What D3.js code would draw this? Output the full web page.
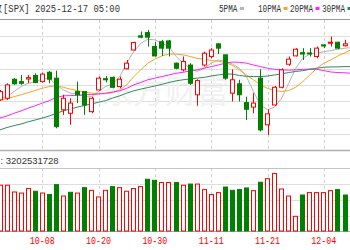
<!DOCTYPE html>
<html>
<head>
<meta charset="utf-8">
<script src="https://cdn.jsdelivr.net/npm/d3@7"></script>
<style>
body { margin: 0; background: #fff; }
svg { display: block; }
</style>
</head>
<body>
<svg width="350" height="250"></svg>
<script>
// daily bars, 09-30 .. 12-10
var dates = ["09-30","10-01","10-02","10-03","10-06","10-07","10-08","10-09","10-10","10-13",
  "10-14","10-15","10-16","10-17","10-20","10-21","10-22","10-23","10-24","10-27",
  "10-28","10-29","10-30","10-31","11-03","11-04","11-05","11-06","11-07","11-10",
  "11-11","11-12","11-13","11-14","11-17","11-18","11-19","11-20","11-21","11-24",
  "11-25","11-26","11-28","12-01","12-02","12-03","12-04","12-05","12-08","12-09","12-10"];

var open  = [6653,6659,6730,6721,6731,6744,6721,6756,6734,6616,6603,6684,6684,6609,6690,6732,6737,6703,6769,6839,
  6892,6904,6852,6870,6873,6790,6765,6783,6672,6783,6815,6862,6821,6678,6713,6643,6626,6734,6560,6634,
  6700,6786,6817,6829,6828,6815,6858,6866,6868,6855,6860];
var high  = [6690,6715,6734,6746,6746,6752,6755,6761,6762,6672,6659,6721,6684,6665,6740,6742,6740,6740,6802,6870,
  6908,6914,6870,6877,6877,6792,6815,6790,6730,6833,6846,6864,6821,6767,6728,6665,6678,6767,6618,6705,
  6771,6815,6846,6846,6846,6852,6861,6889,6870,6877,6900];
var low   = [6649,6653,6709,6709,6715,6715,6718,6715,6547,6597,6560,6641,6597,6603,6688,6718,6696,6696,6767,6837,
  6883,6852,6815,6817,6815,6767,6759,6709,6631,6777,6808,6824,6728,6647,6647,6578,6603,6535,6522,6631,
  6696,6780,6815,6802,6815,6808,6846,6852,6842,6852,6855];
var close = [6684,6709,6713,6715,6736,6718,6749,6730,6553,6659,6641,6672,6634,6659,6734,6730,6700,6730,6790,6867,
  6887,6887,6817,6846,6846,6771,6796,6715,6725,6827,6839,6846,6734,6728,6672,6618,6641,6541,6601,6700,
  6765,6805,6842,6824,6826,6846,6854,6868,6846,6862,6885];

// volume in billions, and whether the bar is drawn as "up"
var volume = [3.05,3.05,2.60,2.53,2.83,2.65,2.53,2.43,3.09,2.33,2.58,2.53,2.89,2.71,2.27,2.71,2.96,2.89,2.65,2.83,
  2.96,3.45,3.38,3.23,3.23,3.23,3.05,3.13,3.13,2.76,2.43,2.56,2.93,2.71,2.76,2.87,2.69,3.25,3.49,3.83,
  2.80,2.33,0.98,2.40,2.56,2.56,2.56,2.69,2.76,2.40,3.09];
var volUp = [1,1,1,1,1,0,1,0,0,1,0,1,0,1,1,1,0,1,1,1,1,0,0,1,1,0,1,0,1,1,1,1,0,0,0,0,1,0,1,1,1,1,1,0,1,1,1,1,0,0,1];

// moving averages
var ma5  = [6659,6665,6684,6703,6715,6721,6730,6734,6709,6690,6678,6675,6665,6665,6684,6703,6712,6740,6790,6833,
  6864,6879,6877,6864,6852,6815,6790,6771,6759,6771,6790,6802,6796,6787,6771,6740,6684,6634,6616,6626,
  6659,6715,6771,6808,6824,6827,6833,6837,6842,6846,6848];
var ma10 = [6653,6657,6665,6672,6680,6688,6696,6703,6705,6700,6693,6688,6683,6678,6676,6676,6680,6690,6709,6740,
  6765,6790,6805,6817,6824,6824,6821,6815,6808,6805,6800,6797,6793,6782,6765,6746,6728,6709,6696,6688,
  6684,6688,6700,6721,6746,6771,6790,6802,6817,6829,6842];
var ma20 = [6585,6593,6603,6612,6622,6631,6641,6650,6662,6668,6669,6670,6672,6673,6675,6678,6682,6687,6696,6709,
  6718,6728,6734,6740,6746,6752,6756,6761,6765,6771,6777,6783,6790,6794,6793,6790,6783,6777,6771,6767,
  6765,6764,6765,6767,6768,6767,6762,6757,6755,6754,6752];
var ma30 = [6541,6550,6557,6563,6571,6578,6585,6593,6603,6612,6619,6626,6632,6638,6644,6650,6660,6668,6678,6687,
  6693,6699,6705,6711,6718,6724,6728,6731,6734,6737,6742,6746,6750,6749,6744,6741,6740,6740,6742,6746,
  6750,6755,6759,6762,6767,6771,6775,6776,6776,6777,6777];

var labelDates = ["10-08","10-20","10-30","11-11","11-21","12-04"];
var maNames = ["5PMA","10PMA","20PMA","30PMA"];
var maColors = ["#b4b4b4","#f5a623","#ff22ff","#2e8b57"];

var svg = d3.select("svg"),
  W = +svg.attr("width");

var step = 7;
var x = d3.scaleBand()
  .domain(dates)
  .range([1 - step / 2, 1 - step / 2 + step * dates.length])
  .paddingInner(0.3);

var y = d3.scaleLinear().domain([6466, 6951]).range([150, 20]);
var yv = d3.scaleLinear().domain([0, 4.2]).range([231, 168]);

var cx = function (i) { return x(dates[i]) + x.bandwidth() / 2; };
var up = "#ff0000", down = "#008000";
var mono = "'Liberation Mono', monospace";

// grid
var grid = svg.append("g").attr("class", "grid");
d3.range(1, 8).forEach(function (k) {
  var gy = Math.round(20 + k * 130 / 8) + 0.5;
  grid.append("line").attr("x1", 0).attr("x2", W).attr("y1", gy).attr("y2", gy)
    .attr("stroke", "#dedede");
});
[184, 200, 216].forEach(function (gy) {
  grid.append("line").attr("x1", 0).attr("x2", W).attr("y1", gy + 0.5).attr("y2", gy + 0.5)
    .attr("stroke", "#dedede");
});
labelDates.forEach(function (d) {
  var gx = Math.round(x(d) + x.bandwidth() / 2) + 0.5;
  [[20, 150], [168, 231]].forEach(function (r) {
    grid.append("line").attr("x1", gx).attr("x2", gx).attr("y1", r[0]).attr("y2", r[1])
      .attr("stroke", "#cfcfcf").attr("stroke-dasharray", "3,3");
  });
});
grid.append("line").attr("x1", 0).attr("x2", W).attr("y1", 19.5).attr("y2", 19.5).attr("stroke", "#9a9a9a");
grid.append("line").attr("x1", 0).attr("x2", W).attr("y1", 150.5).attr("y2", 150.5).attr("stroke", "#b0b0b0").attr("stroke-width", 1.5);
grid.append("line").attr("x1", 0).attr("x2", W).attr("y1", 168.5).attr("y2", 168.5).attr("stroke", "#c4c4c4");
grid.append("line").attr("x1", 0).attr("x2", W).attr("y1", 231.5).attr("y2", 231.5).attr("stroke", "#a8a8a8");

// watermark
svg.append("text")
  .attr("x", 165).attr("y", 103)
  .attr("text-anchor", "middle")
  .style("font-family", "'Noto Sans CJK SC'")
  .style("font-size", "32px")
  .attr("fill", "#f1f1f1")
  .text("东方财富");

// moving average lines
var maData = [ma5, ma10, ma20, ma30];
var line = d3.line()
  .x(function (d, i) { return cx(i); })
  .y(function (d) { return y(d); });
svg.append("g").selectAll("path")
  .data(maData)
  .enter().append("path")
  .attr("d", line)
  .attr("fill", "none")
  .attr("stroke", function (d, i) { return maColors[i]; })
  .attr("stroke-width", 1);

// candles
var idx = d3.range(dates.length);
var candle = svg.append("g").selectAll("g")
  .data(idx)
  .enter().append("g");

candle.append("line")
  .attr("x1", function (i) { return Math.round(cx(i)) + 0.5; })
  .attr("x2", function (i) { return Math.round(cx(i)) + 0.5; })
  .attr("y1", function (i) { return y(high[i]); })
  .attr("y2", function (i) { return y(low[i]); })
  .attr("stroke", function (i) { return close[i] >= open[i] ? up : down; });

candle.append("rect")
  .attr("x", function (i) { return Math.round(x(dates[i])) + 0.5; })
  .attr("width", 4)
  .attr("y", function (i) { return y(Math.max(open[i], close[i])); })
  .attr("height", function (i) { return Math.max(1, Math.abs(y(open[i]) - y(close[i]))); })
  .attr("fill", function (i) { return close[i] >= open[i] ? "#fff" : down; })
  .attr("stroke", function (i) { return close[i] >= open[i] ? up : down; });

// volume bars
svg.append("g").selectAll("rect")
  .data(idx)
  .enter().append("rect")
  .attr("x", function (i) { return Math.round(x(dates[i])) + 0.5; })
  .attr("width", 4)
  .attr("y", function (i) { return yv(volume[i]); })
  .attr("height", function (i) { return yv(0) - yv(volume[i]); })
  .attr("fill", function (i) { return volUp[i] ? "#fff" : down; })
  .attr("stroke", function (i) { return volUp[i] ? up : down; });

// x axis labels
var xAxis = d3.axisBottom(x).tickValues(labelDates).tickSize(0).tickPadding(0);
var ax = svg.append("g")
  .attr("transform", "translate(0,237)")
  .call(xAxis);
ax.select(".domain").remove();
ax.selectAll("text")
  .attr("fill", "#ff0000")
  .attr("textLength", 25)
  .attr("lengthAdjust", "spacingAndGlyphs")
  .style("font-family", mono)
  .style("font-size", "10px");

// header texts
svg.append("text").attr("x", 2).attr("y", 12).attr("text-anchor", "end")
  .style("font-family", "'Noto Sans CJK SC'").style("font-size", "10px").attr("fill", "#333")
  .text("数");
svg.append("text").attr("x", 3).attr("y", 12)
  .attr("textLength", 117).attr("lengthAdjust", "spacingAndGlyphs")
  .style("font-family", mono).style("font-size", "10.5px").attr("fill", "#333")
  .text("[SPX] 2025-12-17 05:00");

var legendX = [219, 258, 290, 322];
var lg = svg.append("g").selectAll("g")
  .data(maNames)
  .enter().append("g")
  .attr("transform", function (d, i) { return "translate(" + legendX[i] + ",0)"; });
lg.append("text")
  .attr("y", 12)
  .attr("textLength", function (d) { return d.length * 4.6; })
  .attr("lengthAdjust", "spacingAndGlyphs")
  .style("font-family", mono).style("font-size", "10px").attr("fill", "#333")
  .text(function (d) { return d; });
lg.append("rect")
  .attr("x", function (d) { return d.length * 4.6 + 2.5; })
  .attr("y", 7).attr("width", 4).attr("height", 3)
  .attr("fill", function (d, i) { return maColors[i]; });

svg.append("text").attr("x", 0.5).attr("y", 164)
  .style("font-family", "'Liberation Sans', sans-serif").style("font-size", "9.5px").attr("fill", "#333")
  .text(": 3202531728");
</script>
</body>
</html>
